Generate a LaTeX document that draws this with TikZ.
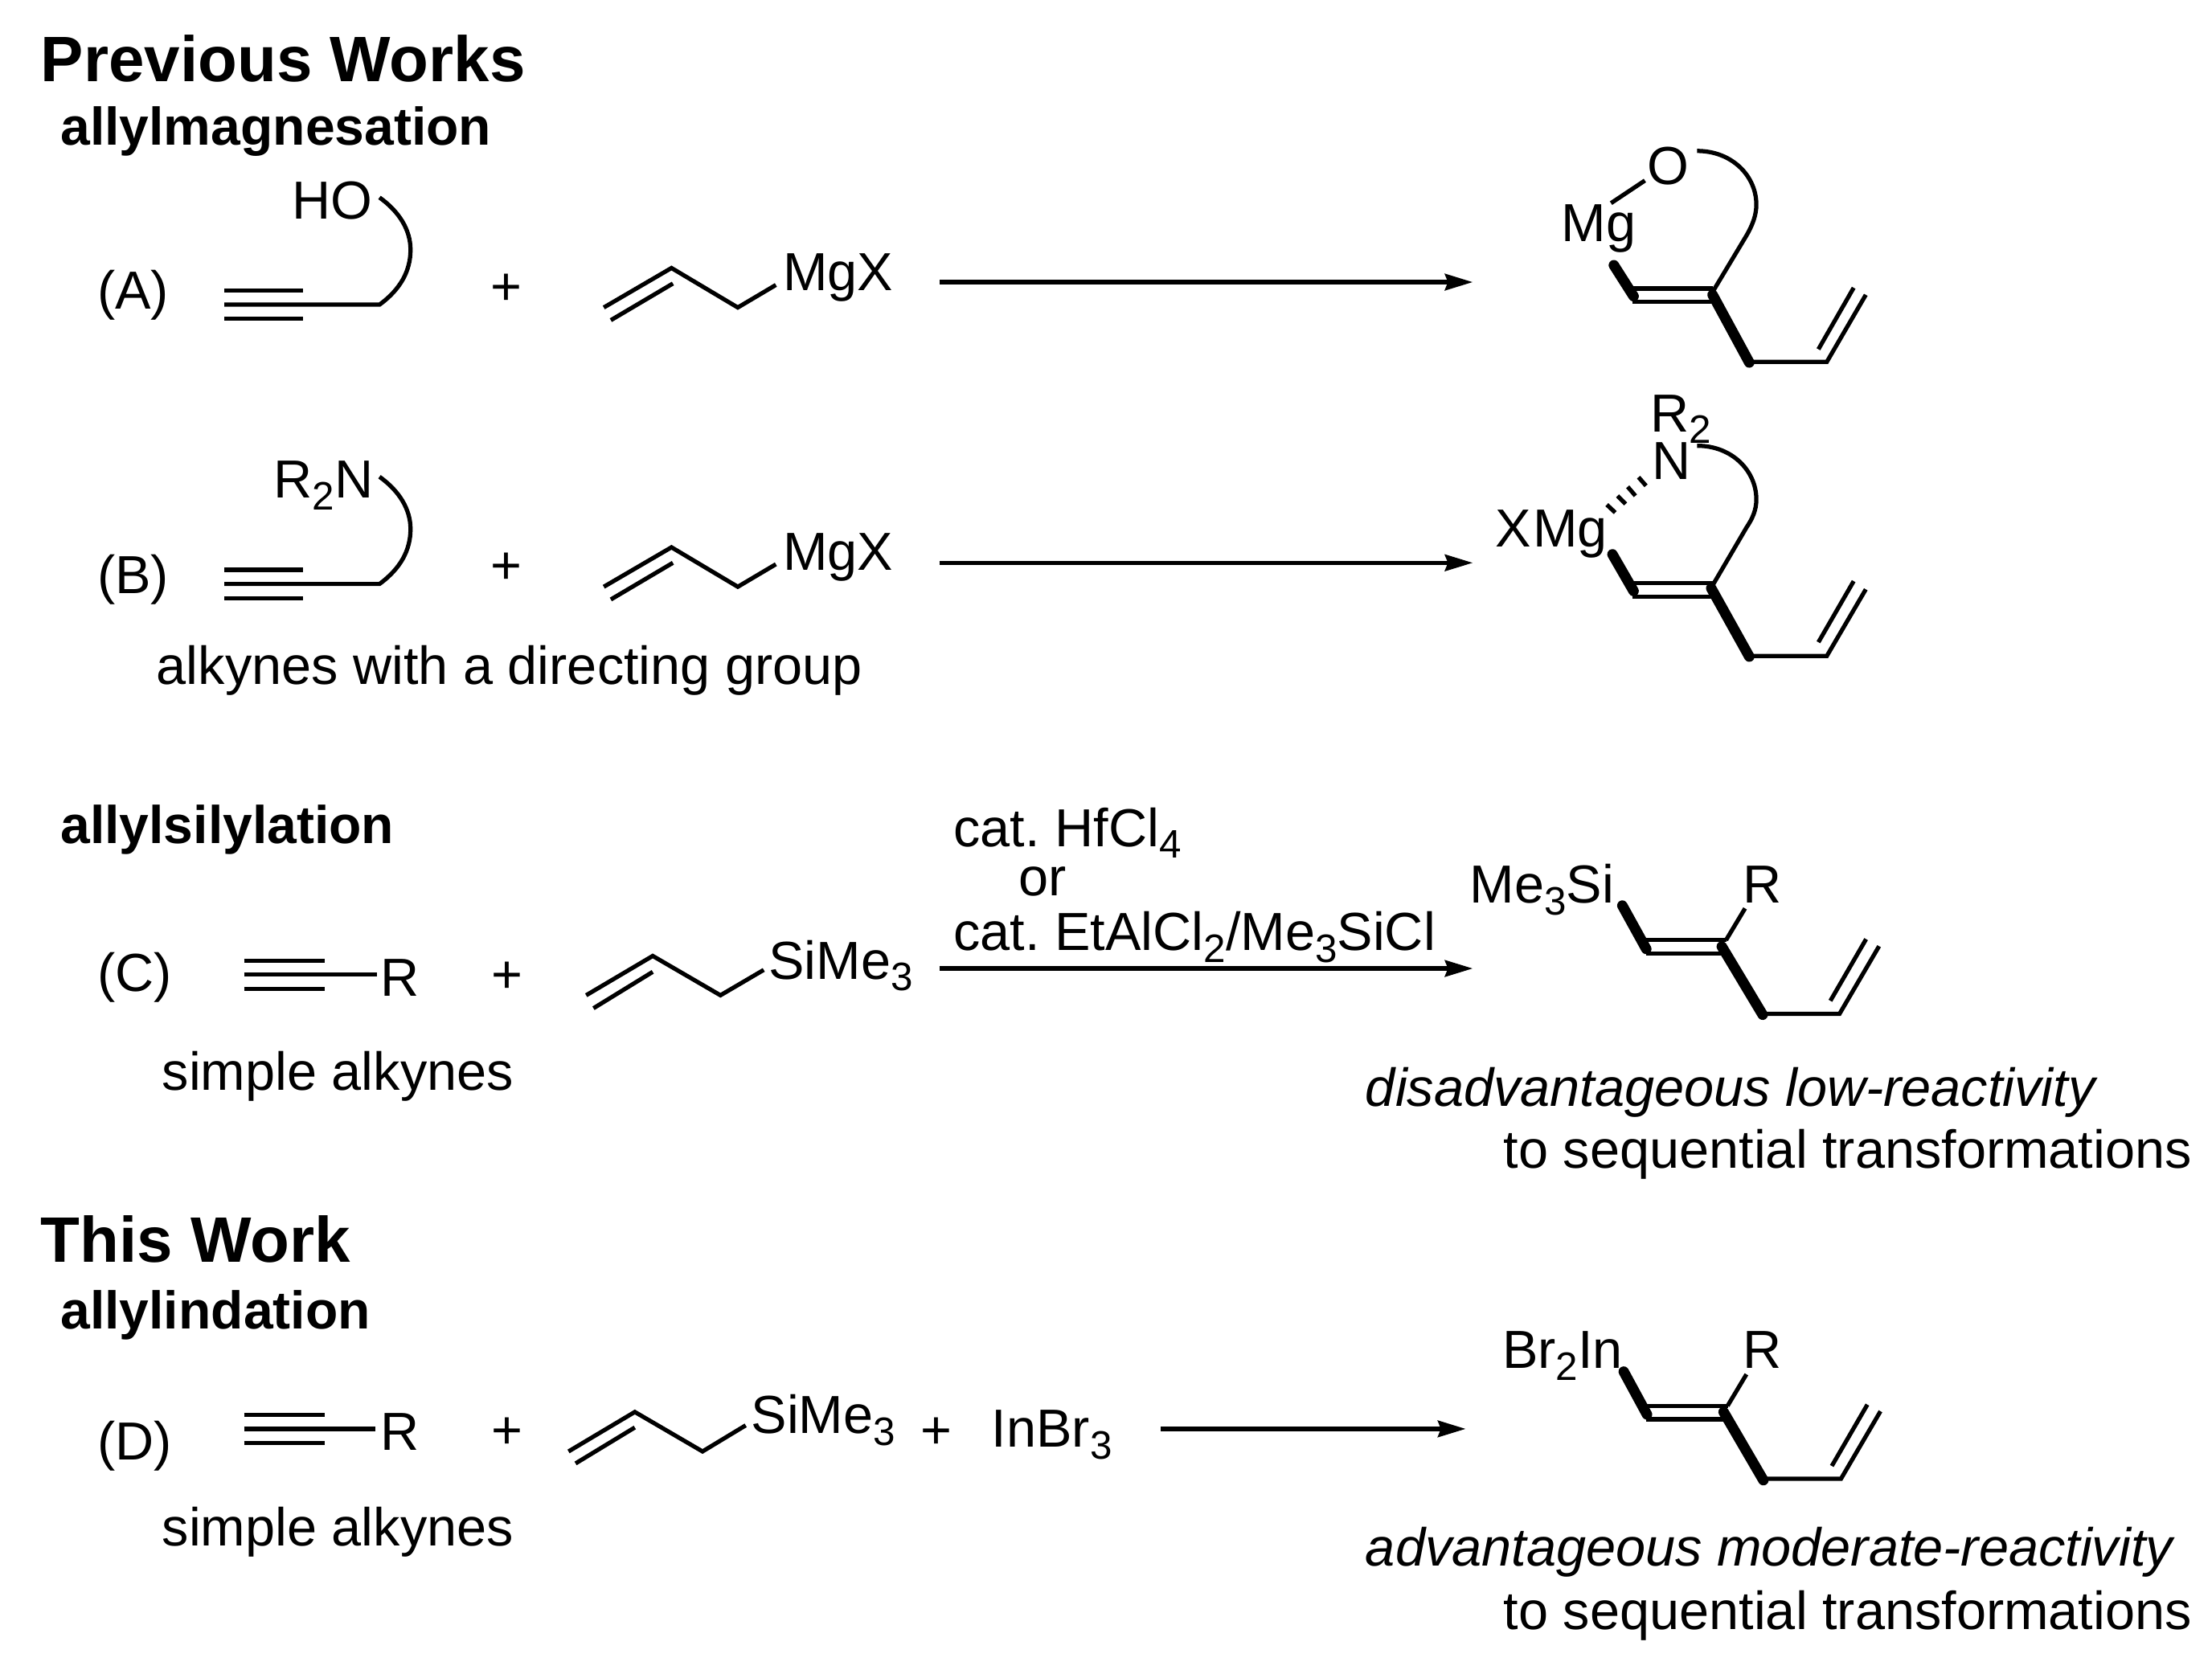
\documentclass[tikz,border=0pt]{standalone}
\usepackage{fontspec}
\setmainfont{Liberation Sans}
\usetikzlibrary{arrows.meta}

\newcommand{\chemsub}[1]{\raisebox{-2.4pt}{\fontsize{8}{8}\selectfont #1}}

\begin{document}
\begin{tikzpicture}[
          x=0.01cm, y=-0.01cm,
          txt/.style = {inner sep=0, outer sep=0, anchor=base west, font=\fontsize{10.8}{12}\selectfont},
          head/.style = {txt, font=\fontsize{12.95}{14}\selectfont\bfseries},
          sub/.style = {txt, font=\fontsize{10.7}{12}\selectfont\bfseries},
          note/.style = {txt, font=\fontsize{10.8}{12}\selectfont\itshape},
          plus/.style = {inner sep=0, outer sep=0, anchor=center, font=\fontsize{10.8}{12}\selectfont},
          bond/.style = {line width=0.85pt},
          bold/.style = {line width=2.1pt, line cap=round},
          rxn/.style = {line width=0.85pt, -{Stealth[length=5.6pt, width=3.3pt, inset=0.6pt]}}
        ]
        \useasboundingbox (0,0) rectangle (1568,1178);

        \node[head] (previous) at (29,58) {Previous Works};
        \node[sub] (magnesation) at (43,103) {allylmagnesation};
        \node[sub] (silylation) at (43,598) {allylsilylation};
        \node[head] (thiswork) at (29,895) {This Work};
        \node[sub] (indation) at (43,942) {allylindation};

        \node[txt] (labelA) at (69,219) {(A)};
        \node[txt] (labelB) at (69,421) {(B)};
        \node[txt] (labelC) at (69,703) {(C)};
        \node[txt] (labelD) at (69,1035) {(D)};

        % row A
        \node[txt] (hoA) at (207,155) {HO};
        \draw[bond] (159,206) -- (215,206) (159,226) -- (215,226);
        \draw[bond] (159,216) -- (269,216) .. controls (284,205) and (291,192) .. (291,177)
                    .. controls (291,163) and (283,150) .. (269,140);
        \node[plus] (plusA) at (359,205) {+};
        \draw[bond] (428,218) -- (476,190) -- (523,218) -- (550,202);
        \draw[bond] (433,227) -- (477,201);
        \node[txt] (mgxA) at (555,206) {MgX};
        \coordinate (arrAs) at (666,200);
        \coordinate (arrAe) at (1044,200);
        \draw[rxn] (arrAs) -- (arrAe);

        \node[txt] (mgA) at (1107,171) {Mg};
        \node[txt] (oA) at (1168,131) {O};
        \draw[bond] (1142,144) -- (1166,128);
        \draw[bond] (1203,107) .. controls (1228,107) and (1245,125) .. (1245,145)
                    .. controls (1245,153) and (1242,160) .. (1238,167) -- (1214,207);
        \draw[bond] (1157,204.5) -- (1214,204.5) (1157,214) -- (1213,214);
        \draw[bold] (1144,188) -- (1158,210);
        \draw[bold] (1214,209) -- (1240,257);
        \draw[bond] (1240,256.5) -- (1295,256.5) -- (1322.6,209);
        \draw[bond] (1289,247.6) -- (1314,204);

        % row B
        \node[txt] (r2nB) at (194,353) {R\chemsub{2}N};
        \draw[bond] (159,404) -- (215,404) (159,424) -- (215,424);
        \draw[bond] (159,414) -- (269,414) .. controls (284,403) and (291,390) .. (291,375)
                    .. controls (291,361) and (283,348) .. (269,338);
        \node[plus] (plusB) at (359,403) {+};
        \draw[bond] (428,416) -- (476,388) -- (523,416) -- (550,400);
        \draw[bond] (433,425) -- (477,399);
        \node[txt] (mgxB) at (555,404) {MgX};
        \node[txt] (directing) at (111,485) {alkynes with a directing group};
        \coordinate (arrBs) at (666,399);
        \coordinate (arrBe) at (1044,399);
        \draw[rxn] (arrBs) -- (arrBe);

        \node[txt] (rB) at (1170,306) {R\chemsub{2}};
        \node[txt] (nB) at (1171,340) {N};
        \node[txt] (xmgB) at (1060,388) {X\kern0.4pt Mg};
        \draw[bond] (1139,357.8) -- (1145,363.4) (1146.6,351.5) -- (1152.3,357.3)
                    (1153.8,345.1) -- (1159.3,351.5) (1161.5,338.3) -- (1166.8,344.4);
        \draw[bond] (1203,316) .. controls (1228,316) and (1245,334) .. (1245,354)
                    .. controls (1245,362) and (1242,368) .. (1238,374) -- (1214,415);
        \draw[bond] (1157,413.5) -- (1214,413.5) (1157,423) -- (1213,423);
        \draw[bold] (1143,393) -- (1158,419);
        \draw[bold] (1213,417) -- (1240,465.5);
        \draw[bond] (1240,465) -- (1295,465) -- (1322.6,417.8);
        \draw[bond] (1289,455.3) -- (1314,412);

        % row C
        \draw[bond] (173,681) -- (230,681) (173,701) -- (230,701);
        \draw[bond] (173,691) -- (267,691);
        \node[txt] (rC) at (270,706) {R};
        \node[plus] (plusC) at (359.5,693) {+};
        \draw[bond] (415.5,705.6) -- (462.7,677.7) -- (510.7,705.6) -- (541.4,687.6);
        \draw[bond] (420.7,714.8) -- (462.7,689);
        \node[txt] (simeC) at (545,694) {SiMe\chemsub{3}};
        \node[txt] (simpleC) at (115,773) {simple alkynes};
        \node[txt] (hfcl) at (676,600) {cat.\hspace{3pt}HfCl\chemsub{4}};
        \node[txt] (orC) at (722,635) {or};
        \node[txt] (etalcl) at (676,674) {cat.\hspace{3pt}EtAlCl\chemsub{2}/Me\chemsub{3}SiCl};
        \coordinate (arrCs) at (666,686.6);
        \coordinate (arrCe) at (1044,686.6);
        \draw[rxn] (arrCs) -- (arrCe);

        \node[txt] (simeprod) at (1042,640) {Me\chemsub{3}Si};
        \node[txt] (rprodC) at (1235.5,640) {R};
        \draw[bold] (1150,642) -- (1167,672.8);
        \draw[bond] (1167,666.5) -- (1224,666.5) (1167,676) -- (1220,676);
        \draw[bond] (1237,644) -- (1223.5,666.5);
        \draw[bold] (1220.5,671) -- (1249.5,719.4);
        \draw[bond] (1250,718.7) -- (1304,718.7) -- (1332,670.8);
        \draw[bond] (1297.5,709.5) -- (1322.8,665.8);
        \node[note] (disadv) at (968,784) {disadvantageous low-reactivity};
        \node[txt] (seqC) at (1066,828) {to sequential transformations};

        % row D
        \draw[bond] (173,1003) -- (230,1003) (173,1023) -- (230,1023);
        \draw[bond] (173,1013) -- (266,1013);
        \node[txt] (rD) at (270,1028) {R};
        \node[plus] (plusD) at (359.5,1016) {+};
        \draw[bond] (403,1029) -- (450,1001) -- (498,1029) -- (528.6,1010.5);
        \draw[bond] (408,1037.5) -- (450,1012);
        \node[txt] (simeD) at (532.5,1016) {SiMe\chemsub{3}};
        \node[plus] (plusDb) at (664,1016) {+};
        \node[txt] (inbr) at (703,1026) {InBr\chemsub{3}};
        \node[txt] (simpleD) at (115,1096) {simple alkynes};
        \coordinate (arrDs) at (823,1013);
        \coordinate (arrDe) at (1039,1013);
        \draw[rxn] (arrDs) -- (arrDe);

        \node[txt] (inprod) at (1065,970) {Br\chemsub{2}In};
        \node[txt] (rprodD) at (1235.5,970) {R};
        \draw[bold] (1151,972.4) -- (1167.5,1002.8);
        \draw[bond] (1167,996.7) -- (1225,996.7) (1167,1006.2) -- (1222,1006.2);
        \draw[bond] (1238,974.3) -- (1224.6,996.7);
        \draw[bold] (1221.8,1001) -- (1250,1049.4);
        \draw[bond] (1250,1048.4) -- (1305,1048.4) -- (1333,1000.5);
        \draw[bond] (1298.5,1039.3) -- (1323.7,995.8);
        \node[note] (adv) at (968,1110) {advantageous moderate-reactivity};
        \node[txt] (seqD) at (1066,1155) {to sequential transformations};
\end{tikzpicture}
\end{document}
